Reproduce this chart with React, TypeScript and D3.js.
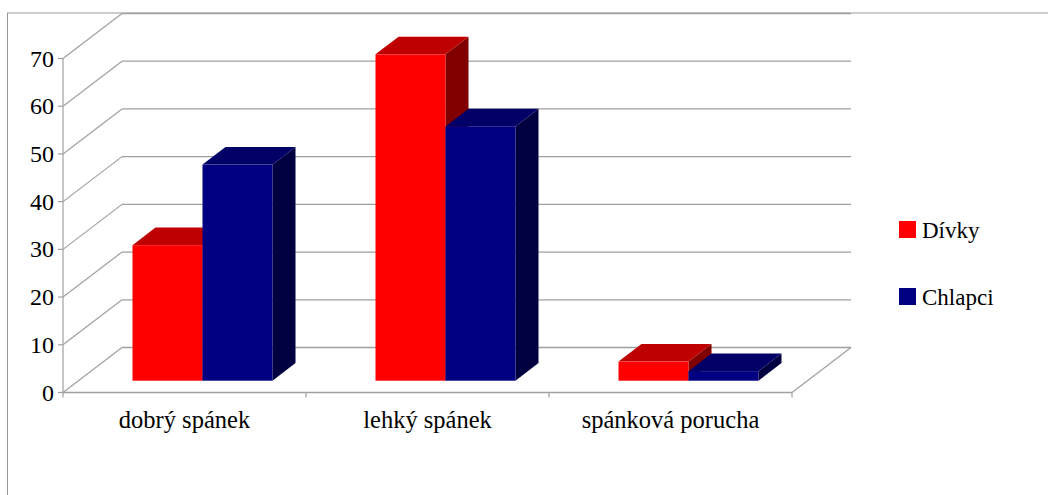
import React from "react";
import * as d3 from "d3";

// Sleep quality by group (percent)
const categories = ["dobrý spánek", "lehký spánek", "spánková porucha"];
const seriesNames = ["Dívky", "Chlapci"];
const divky = [28.4, 68.4, 4.0];
const chlapci = [45.3, 53.3, 2.0];
const yTicks = [0, 10, 20, 30, 40, 50, 60, 70];

const W = 1048;
const H = 495;

// Face colours per series: front, top, side
const palette = [
  { front: "#ff0000", top: "#bf0000", side: "#800000" },
  { front: "#000080", top: "#000066", side: "#000040" },
];

// Oblique 3D projection: full depth of the floor / walls
const DEPTH_DX = 59;
const DEPTH_DY = -45;
// Bars sit a little behind the front edge and are ~0.39 deep
const BAR_FRONT_DX = 18;
const BAR_FRONT_DY = -11.8;
const BAR_DX = 23;
const BAR_DY = -17.6;

const FONT = "Liberation Serif, DejaVu Serif, serif";
const GRID = "#a0a0a0";

export default function App() {
  const x0 = 63;
  const x1 = 792;
  const y = d3.scaleLinear().domain([0, 70]).range([392.5, 58.5]);
  const xCat = d3.scaleBand<string>().domain(categories).range([x0, x1]).padding(0);
  const groupW = 140;
  const xSer = d3.scaleBand<string>().domain(seriesNames).range([0, groupW]).padding(0);
  const values = [divky, chlapci];

  const pts = (p: [number, number][]) => p.map((q) => q.join(",")).join(" ");

  const bars: React.ReactNode[] = [];
  categories.forEach((cat, ci) => {
    seriesNames.forEach((s, si) => {
      const v = values[si][ci];
      const left = (xCat(cat) as number) + (xCat.bandwidth() - groupW) / 2 + (xSer(s) as number) + BAR_FRONT_DX;
      const right = left + xSer.bandwidth();
      const bottom = y(0) + BAR_FRONT_DY;
      const top = y(v) + BAR_FRONT_DY;
      const c = palette[si];
      bars.push(
        <g key={cat + s}>
          <polygon
            points={pts([
              [right, top],
              [right + BAR_DX, top + BAR_DY],
              [right + BAR_DX, bottom + BAR_DY],
              [right, bottom],
            ])}
            fill={c.side}
          />
          <polygon
            points={pts([
              [left, top],
              [left + BAR_DX, top + BAR_DY],
              [right + BAR_DX, top + BAR_DY],
              [right, top],
            ])}
            fill={c.top}
          />
          <rect x={left} y={top} width={right - left} height={bottom - top} fill={c.front} />
        </g>
      );
    });
  });

  const catTicks = [...categories.map((c) => xCat(c) as number), x1];

  return (
    <svg
      width={W}
      height={H}
      style={{ position: "absolute", left: 0, top: 0, background: "#fff" }}
    >
      {/* outer frame */}
      <line x1={7.5} y1={13} x2={7.5} y2={H} stroke="#999" strokeWidth={1} />
      <line x1={7} y1={13} x2={W} y2={13} stroke="#999" strokeWidth={1} />

      {/* back wall gridlines and side wall diagonals */}
      {yTicks.map((t) => (
        <g key={t}>
          <line
            x1={x0 + DEPTH_DX}
            y1={y(t) + DEPTH_DY}
            x2={x1 + DEPTH_DX}
            y2={y(t) + DEPTH_DY}
            stroke={GRID}
            strokeWidth={1.3}
          />
          <line
            x1={x0}
            y1={y(t)}
            x2={x0 + DEPTH_DX}
            y2={y(t) + DEPTH_DY}
            stroke={GRID}
            strokeWidth={1.2}
          />
          <line x1={x0 - 5} y1={y(t)} x2={x0} y2={y(t)} stroke={GRID} strokeWidth={1.2} />
          <text
            x={54}
            y={y(t)}
            textAnchor="end"
            dominantBaseline="central"
            fontFamily={FONT}
            fontSize={24}
            fill="#000"
          >
            {t}
          </text>
        </g>
      ))}

      {/* floor edges and value axis */}
      <line x1={x0} y1={y(0)} x2={x1} y2={y(0)} stroke={GRID} strokeWidth={1.5} />
      <line x1={x1} y1={y(0)} x2={x1 + DEPTH_DX} y2={y(0) + DEPTH_DY} stroke={GRID} strokeWidth={1.2} />
      <line x1={x0} y1={y(0)} x2={x0} y2={y(70)} stroke={GRID} strokeWidth={1.2} />
      {catTicks.map((tx, i) => (
        <line key={i} x1={tx} y1={y(0)} x2={tx} y2={y(0) + 5} stroke={GRID} strokeWidth={1.2} />
      ))}

      {bars}

      {/* category labels */}
      {categories.map((c) => (
        <text
          key={c}
          x={(xCat(c) as number) + xCat.bandwidth() / 2}
          y={428}
          textAnchor="middle"
          fontFamily={FONT}
          fontSize={24.5}
          fill="#000"
        >
          {c}
        </text>
      ))}

      {/* legend */}
      {seriesNames.map((s, i) => (
        <g key={s} transform={`translate(899, ${221 + i * 67})`}>
          <rect x={0} y={0} width={17} height={17} fill={palette[i].front} />
          <text x={23} y={17} fontFamily={FONT} fontSize={23} fill="#000">
            {s}
          </text>
        </g>
      ))}
    </svg>
  );
}
